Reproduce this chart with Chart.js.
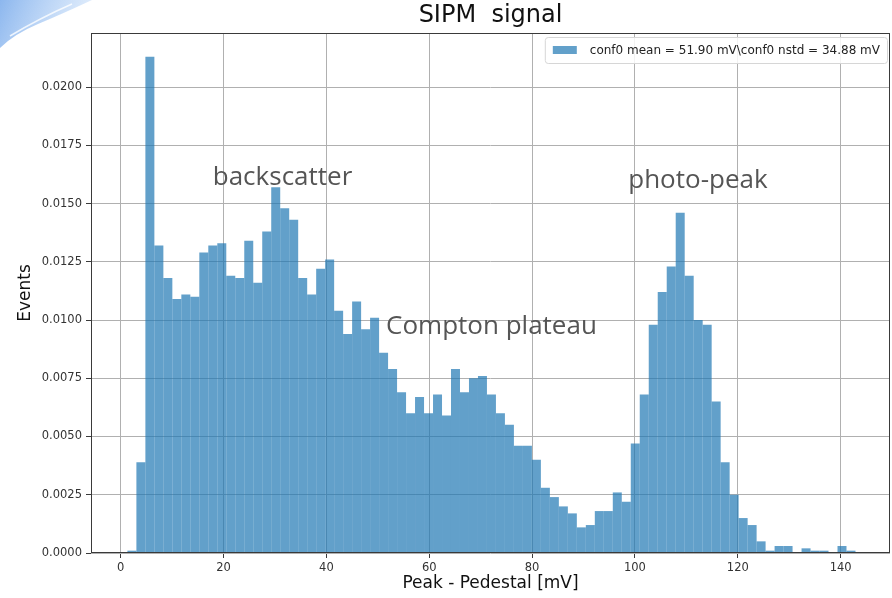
<!DOCTYPE html>
<html>
<head>
<meta charset="utf-8">
<title>SIPM signal</title>
<script src="https://cdn.jsdelivr.net/npm/chart.js@4.4.1/dist/chart.umd.min.js"></script>
<style>
  html, body { margin: 0; padding: 0; background: #fff; }
  #wrap { width: 892px; height: 598px; position: relative; }
</style>
</head>
<body>
<div id="wrap"><canvas id="grafico"></canvas></div>
<script>
// histogram bins: first edge and width in mV
const binStart = 1.3;
const binWidth = 1.748;

// normalised counts per bin
const eventos = [
  0.0001, 0.0039, 0.0213, 0.0132, 0.0118, 0.0109, 0.0111, 0.0110, 0.0129, 0.0132,
  0.0133, 0.0119, 0.0118, 0.0134, 0.0116, 0.0138, 0.0157, 0.0148, 0.0143, 0.0118,
  0.0111, 0.0122, 0.0126, 0.0104, 0.0094, 0.0108, 0.0096, 0.0101, 0.0086, 0.0079,
  0.0069, 0.0060, 0.0067, 0.0060, 0.0068, 0.0059, 0.0079, 0.0069, 0.0075, 0.0076,
  0.0068, 0.0060, 0.0055, 0.0046, 0.0046, 0.0040, 0.0028, 0.0024, 0.0020, 0.0017,
  0.0011, 0.0012, 0.0018, 0.0018, 0.0026, 0.0022, 0.0047, 0.0068, 0.0098, 0.0112,
  0.0123, 0.0146, 0.0119, 0.0100, 0.0098, 0.0065, 0.0039, 0.0025, 0.0015, 0.0012,
  0.0005, 0.0001, 0.0003, 0.0003, 0.0000, 0.0002, 0.0001, 0.0001, 0.0000, 0.0003,
  0.0001
];

const xTicks = [0, 20, 40, 60, 80, 100, 120, 140];
const yTicks = [0, 0.0025, 0.005, 0.0075, 0.01, 0.0125, 0.015, 0.0175, 0.02];

const media = '51.90';
const nstd = '34.88';
const titulo = 'SIPM  signal';

// text labels on the spectrum: [text, x (mV), y (events)]
const rotulos = [
  ['backscatter', 17.9, 0.0161],
  ['photo-peak', 98.7, 0.0160],
  ['Compton plateau', 51.6, 0.0097]
];

const corBarra = 'rgba(31, 119, 180, 0.7)';
const fonteMpl = 'DejaVu Sans';

const pontos = eventos.map((v, i) => ({ x: binStart + binWidth * (i + 0.5), y: v }));

// page-curl decoration in the top left corner
const enfeite = {
  id: 'enfeite',
  beforeDraw(chart) {
    const ctx = chart.ctx;
    ctx.save();
    const g = ctx.createLinearGradient(0, 0, 90, 40);
    g.addColorStop(0, 'rgba(120,170,235,0.85)');
    g.addColorStop(1, 'rgba(215,232,252,0.6)');
    ctx.fillStyle = g;
    ctx.beginPath();
    ctx.moveTo(0, 0);
    ctx.lineTo(92, 0);
    ctx.quadraticCurveTo(62, 14, 38, 24);
    ctx.quadraticCurveTo(14, 34, 0, 48);
    ctx.closePath();
    ctx.fill();
    ctx.strokeStyle = 'rgba(255,255,255,0.8)';
    ctx.lineWidth = 1.5;
    ctx.beginPath();
    ctx.moveTo(72, 4);
    ctx.quadraticCurveTo(40, 18, 10, 36);
    ctx.stroke();
    ctx.restore();
  }
};

// title, frame, legend box and the spectrum labels
const extras = {
  id: 'extras',
  afterDatasetsDraw(chart) {
    const { ctx, chartArea: a, scales } = chart;
    ctx.save();

    ctx.strokeStyle = '#3a3a3a';
    ctx.lineWidth = 1;
    ctx.strokeRect(a.left + 0.5, a.top + 0.5, a.right - a.left - 1, a.bottom - a.top - 1);

    ctx.fillStyle = '#111';
    ctx.font = '24px "' + fonteMpl + '"';
    ctx.textAlign = 'center';
    ctx.textBaseline = 'middle';
    ctx.fillText(titulo, (a.left + a.right) / 2, 16);

    ctx.fillStyle = '#555';
    ctx.font = '26px "Open Sans"';
    ctx.textAlign = 'left';
    rotulos.forEach(([t, x, y]) => {
      ctx.fillText(t, scales.x.getPixelForValue(x), scales.y.getPixelForValue(y));
    });

    // legend inside the plot, upper right
    const ds = chart.data.datasets[0];
    ctx.font = '12px "' + fonteMpl + '"';
    const w = ctx.measureText(ds.label).width + 52;
    const h = 26;
    const x0 = a.right - 3 - w;
    const y0 = a.top + 4;
    ctx.fillStyle = 'rgba(255,255,255,0.85)';
    ctx.strokeStyle = '#d6d6d6';
    ctx.beginPath();
    ctx.roundRect(x0 + 0.5, y0 + 0.5, w, h, 3);
    ctx.fill();
    ctx.stroke();
    ctx.fillStyle = ds.backgroundColor;
    ctx.fillRect(x0 + 8, y0 + 9, 24, 8);
    ctx.fillStyle = '#222';
    ctx.fillText(ds.label, x0 + 45, y0 + h / 2 + 1);

    ctx.restore();
  }
};

new Chart(document.getElementById('grafico'), {
  type: 'bar',
  data: {
    datasets: [{
      label: 'conf0 mean = ' + media + ' mV\\conf0 nstd = ' + nstd + ' mV',
      data: pontos,
      backgroundColor: corBarra,
      borderWidth: 0,
      inflateAmount: 0,
      barPercentage: 1,
      categoryPercentage: 1
    }]
  },
  options: {
    responsive: true,
    maintainAspectRatio: false,
    animation: false,
    layout: { padding: { top: 33, right: 2, bottom: 0, left: 0 } },
    plugins: {
      legend: { display: false },
      tooltip: { enabled: false },
      title: { display: false }
    },
    scales: {
      x: {
        type: 'linear',
        offset: false,
        min: -5.78,
        max: 149.6,
        afterBuildTicks: s => { s.ticks = xTicks.map(v => ({ value: v })); },
        afterFit: s => { s.height = 45; },
        grid: { offset: false, color: '#b0b0b0', lineWidth: 1, tickColor: '#3a3a3a', tickLength: 5 },
        border: { display: false },
        ticks: {
          color: '#333',
          font: { family: fonteMpl, size: 11.5 },
          padding: 3,
          maxRotation: 0,
          callback: v => String(v)
        },
        title: {
          display: true,
          text: 'Peak - Pedestal [mV]',
          color: '#111',
          font: { family: fonteMpl, size: 17 },
          padding: { top: 0, bottom: 4 }
        }
      },
      y: {
        min: 0,
        max: 0.02232,
        afterBuildTicks: s => { s.ticks = yTicks.map(v => ({ value: v })); },
        afterFit: s => { s.width = 91; },
        grid: { color: '#b0b0b0', lineWidth: 1, tickColor: '#3a3a3a', tickLength: 5 },
        border: { display: false },
        ticks: {
          color: '#333',
          font: { family: fonteMpl, size: 11.5 },
          padding: 4,
          callback: v => v.toFixed(4)
        },
        title: {
          display: true,
          text: 'Events',
          color: '#111',
          font: { family: fonteMpl, size: 17 },
          padding: { top: 15, bottom: 0 }
        }
      }
    }
  },
  plugins: [enfeite, extras]
});
</script>
</body>
</html>
